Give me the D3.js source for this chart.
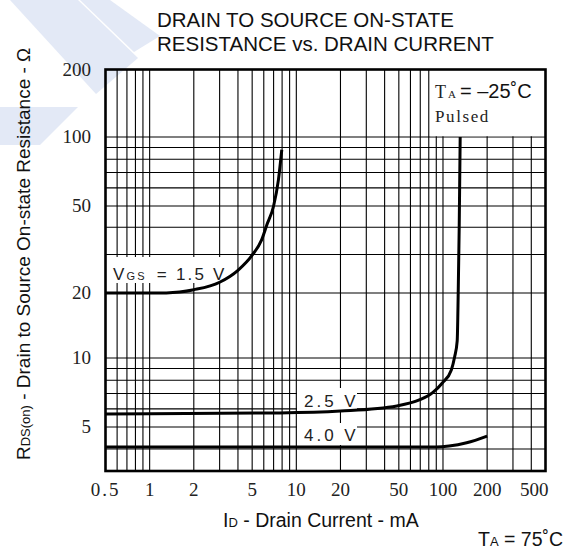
<!DOCTYPE html>
<html>
<head>
<meta charset="utf-8">
<script src="https://cdn.jsdelivr.net/npm/d3@7"></script>
<style>
body { margin: 0; background: #fff; }
text { font-family: "Liberation Sans", Arial, sans-serif; }
.num { font-family: "Liberation Serif", serif; fill: #222; }
</style>
</head>
<body>
<div id="chart"></div>
<script>
// tick labels and grid values
var xTicks = [0.5, 1, 2, 5, 10, 20, 50, 100, 200, 500];
var yTicks = [200, 100, 50, 20, 10, 5];
var xGrid = [0.6, 0.7, 0.8, 0.9, 1, 2, 3, 4, 5, 6, 7, 8, 9, 10, 20, 30, 40, 50, 60, 70, 80, 90, 100, 200, 300, 400];
var yGrid = [100, 90, 80, 70, 60, 50, 40, 30, 20, 10, 9, 8, 7, 6, 5, 4];

// VGS = 1.5 V
var id15 = [0.5, 1, 1.3, 1.6, 2, 3, 4, 5, 5.8, 6.3, 7, 7.55, 7.96];
var r15  = [20, 20, 20.02, 20.2, 20.7, 22.4, 25.4, 29.8, 35, 41, 50, 65, 88];
// VGS = 2.5 V
var id25 = [0.5, 7.7, 20, 48.5, 69, 85, 99, 114, 120, 125, 127, 129, 131];
var r25  = [5.7, 5.76, 5.87, 6.18, 6.56, 7.06, 7.78, 8.87, 10.1, 12, 20, 40, 100];
// VGS = 4.0 V
var id40 = [0.5, 90, 110, 145, 200];
var r40  = [4.08, 4.08, 4.12, 4.26, 4.56];

var series = [
  {id: id15, r: r15},
  {id: id25, r: r25},
  {id: id40, r: r40}
];

var width = 585, height = 552;
var pL = 105.5, pR = 545.5, pT = 69.5, pB = 471;

var x = d3.scaleLog().domain([0.5, 500]).range([pL, pR]);
// the printed grid is not perfectly uniform, so the log scale is piecewise
var y = d3.scaleLog()
  .domain([200, 100, 50, 20, 10, 5, 3.2])
  .range([pT, 137, 206, 293, 358, 427, pB]);

var svg = d3.select('#chart').append('svg')
  .attr('width', width)
  .attr('height', height);

// watermark in the corner
var wm = svg.append('g').attr('fill', '#e3e9f6');
wm.append('polygon').attr('points', '10,0 78,0 138,58 96,94');
wm.append('polygon').attr('points', '80,0 110,0 160,36 134,52');
wm.append('polygon').attr('points', '0,107 78,107 40,145 0,145');

// title
var title = svg.append('text')
  .attr('x', 157)
  .attr('y', 27)
  .attr('font-size', 20.5)
  .attr('fill', '#111');
title.append('tspan').attr('x', 157).text('DRAIN TO SOURCE ON-STATE');
title.append('tspan').attr('x', 157).attr('dy', 23.5).text('RESISTANCE vs. DRAIN CURRENT');

// grid
var grid = svg.append('g').attr('stroke', '#000').attr('stroke-width', 1.1);
grid.selectAll('.vg').data(xGrid).enter().append('line')
  .attr('x1', function (d) { return x(d); })
  .attr('x2', function (d) { return x(d); })
  .attr('y1', pT)
  .attr('y2', pB);
grid.selectAll('.hg').data(yGrid).enter().append('line')
  .attr('x1', pL)
  .attr('x2', pR)
  .attr('y1', function (d) { return y(d); })
  .attr('y2', function (d) { return y(d); });

// white boxes behind the notes
var boxes = svg.append('g').attr('fill', '#fff');
boxes.append('rect').attr('x', x(80) + 1.5).attr('y', pT).attr('width', pR - x(80) - 1.5).attr('height', y(100) - pT - 0.8);
boxes.append('rect').attr('x', pL + 1).attr('y', 257).attr('width', 120).attr('height', 26);
boxes.append('rect').attr('x', 297).attr('y', 388).attr('width', 60).attr('height', 22);
boxes.append('rect').attr('x', 297).attr('y', 423).attr('width', 60).attr('height', 22);

// curves
var line = d3.line()
  .x(function (d) { return x(d[0]); })
  .y(function (d) { return y(d[1]); })
  .curve(d3.curveMonotoneX);

svg.append('clipPath').attr('id', 'clip')
  .append('rect').attr('x', pL).attr('y', pT).attr('width', pR - pL).attr('height', pB - pT);

svg.append('g').attr('clip-path', 'url(#clip)')
  .selectAll('path').data(series).enter().append('path')
  .attr('d', function (s) { return line(d3.zip(s.id, s.r)); })
  .attr('fill', 'none')
  .attr('stroke', '#000')
  .attr('stroke-width', 3);

// frame
svg.append('rect')
  .attr('x', pL).attr('y', pT)
  .attr('width', pR - pL).attr('height', pB - pT)
  .attr('fill', 'none').attr('stroke', '#000').attr('stroke-width', 2.6);

// curve notes
var note = svg.append('g').attr('class', 'num').attr('font-size', 17);
var n1 = note.append('text').attr('x', 113).attr('y', 280).attr('letter-spacing', 2.2);
n1.append('tspan').text('V');
n1.append('tspan').attr('font-size', 11).text('GS');
n1.append('tspan').attr('dx', 10).text('= 1.5 V');
note.append('text').attr('x', 304).attr('y', 407).attr('letter-spacing', 3).text('2.5 V');
note.append('text').attr('x', 304).attr('y', 441).attr('letter-spacing', 3).text('4.0 V');

// condition box
var cond = svg.append('text').attr('x', 435).attr('y', 98);
cond.append('tspan').attr('class', 'num').attr('font-size', 18).text('T');
cond.append('tspan').attr('class', 'num').attr('font-size', 11).attr('dx', 2).text('A');
cond.append('tspan').attr('font-size', 20).attr('fill', '#111').attr('dx', 4).text('= \u201325\u02daC');
svg.append('text').attr('class', 'num').attr('x', 435).attr('y', 122)
  .attr('font-size', 17).attr('letter-spacing', 1.6).text('Pulsed');

// tick labels
svg.append('g').selectAll('text').data(yTicks).enter().append('text')
  .attr('class', 'num')
  .attr('x', 91)
  .attr('y', function (d) { return y(d); })
  .attr('dy', '0.34em')
  .attr('text-anchor', 'end')
  .attr('font-size', 19)
  .text(function (d) { return d; });

svg.append('g').selectAll('text').data(xTicks).enter().append('text')
  .attr('class', 'num')
  .attr('x', function (d) { return d === 500 ? x(d) + 3 : x(d); })
  .attr('y', 496)
  .attr('text-anchor', function (d) { return d === 500 ? 'end' : 'middle'; })
  .attr('font-size', 19)
  .attr('letter-spacing', function (d) { return d === 0.5 ? 2 : 0; })
  .text(function (d) { return d === 0.5 ? '0.5' : d; });

// axis titles
var xl = svg.append('text').attr('x', 223).attr('y', 527).attr('font-size', 19.5).attr('fill', '#111');
xl.append('tspan').text('I');
xl.append('tspan').attr('font-size', 13).text('D');
xl.append('tspan').text(' - Drain Current - mA');

var yl = svg.append('text')
  .attr('transform', 'translate(30,460) rotate(-90)')
  .attr('font-size', 19).attr('fill', '#111');
yl.append('tspan').text('R');
yl.append('tspan').attr('font-size', 13).text('DS(on)');
yl.append('tspan').text(' - Drain to Source On-state Resistance - \u03a9');

var ta = svg.append('text').attr('x', 478).attr('y', 546).attr('font-size', 19.5).attr('fill', '#111');
ta.append('tspan').text('T');
ta.append('tspan').attr('font-size', 13).text('A');
ta.append('tspan').text(' = 75\u02daC');
</script>
</body>
</html>
